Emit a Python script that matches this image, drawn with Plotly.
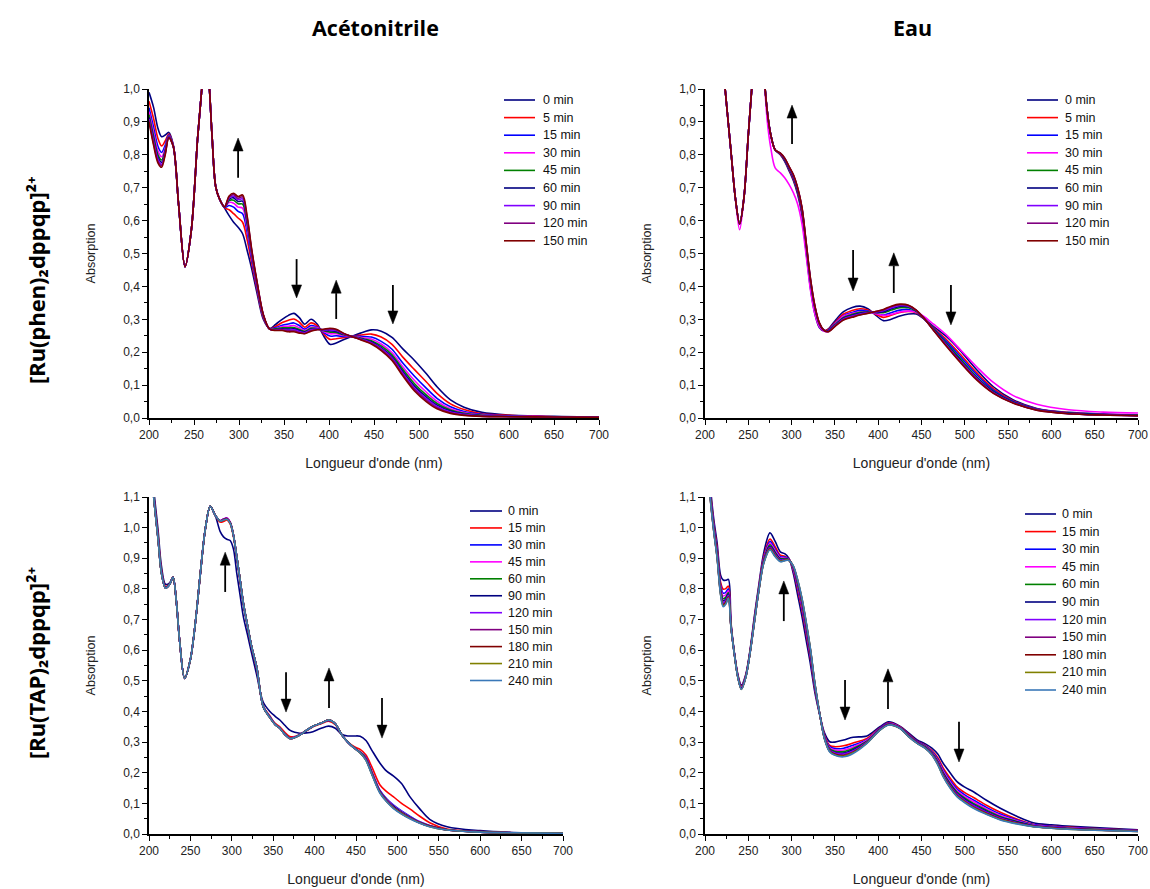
import plotly.graph_objects as go

# ---------------- data ----------------
# Panel 1 : [Ru(phen)2dppqp]2+ in acetonitrile
wl_p1 = [200, 205, 210, 214, 218, 222, 227, 233, 240, 247, 254, 258, 263, 266, 270, 274, 278, 284, 289, 294,
         299, 304, 309, 314, 320, 327, 334, 341, 348, 355, 361, 367, 373, 380, 387, 394, 401, 408, 416, 425,
         435, 447, 458, 470, 482, 495, 508, 520, 535, 550, 570, 600, 650, 700]
labels_p1 = ["0 min", "5 min", "15 min", "30 min", "45 min", "60 min", "90 min", "120 min", "150 min"]
p1_0 = [0.99, 0.945, 0.88, 0.855, 0.86, 0.868, 0.83, 0.645, 0.46, 0.57, 0.85, 0.98, 1.12, 1.05, 0.86, 0.705, 0.668,
        0.638, 0.615, 0.595, 0.58, 0.56, 0.51, 0.455, 0.38, 0.30, 0.272, 0.285, 0.30, 0.312, 0.318, 0.305, 0.285,
        0.30, 0.285, 0.25, 0.224, 0.228, 0.238, 0.248, 0.258, 0.268, 0.264, 0.245, 0.21, 0.175, 0.135, 0.095,
        0.055, 0.033, 0.017, 0.009, 0.005, 0.003]
p1_5 = [0.963, 0.911, 0.849, 0.827, 0.842, 0.863, 0.828, 0.645, 0.46, 0.57, 0.85, 0.98, 1.12, 1.05, 0.86, 0.705, 0.668,
        0.639, 0.633, 0.621, 0.608, 0.595, 0.542, 0.473, 0.391, 0.305, 0.271, 0.279, 0.290, 0.297, 0.301, 0.291,
        0.276, 0.289, 0.280, 0.256, 0.239, 0.241, 0.244, 0.248, 0.252, 0.255, 0.246, 0.224, 0.185, 0.147, 0.110,
        0.075, 0.043, 0.026, 0.013, 0.008, 0.004, 0.003]
p1_15 = [0.943, 0.885, 0.825, 0.807, 0.829, 0.860, 0.827, 0.645, 0.46, 0.57, 0.85, 0.98, 1.12, 1.05, 0.86, 0.705, 0.668,
         0.640, 0.646, 0.641, 0.628, 0.621, 0.565, 0.486, 0.398, 0.308, 0.271, 0.275, 0.282, 0.286, 0.289, 0.281,
         0.270, 0.281, 0.276, 0.260, 0.249, 0.250, 0.248, 0.248, 0.248, 0.246, 0.233, 0.209, 0.167, 0.127, 0.091,
         0.060, 0.034, 0.020, 0.011, 0.006, 0.004, 0.002]
p1_30 = [0.931, 0.869, 0.811, 0.794, 0.820, 0.857, 0.827, 0.645, 0.46, 0.57, 0.85, 0.98, 1.12, 1.05, 0.86, 0.705, 0.668,
         0.641, 0.655, 0.653, 0.641, 0.638, 0.579, 0.495, 0.403, 0.310, 0.271, 0.272, 0.278, 0.279, 0.281, 0.274,
         0.266, 0.276, 0.274, 0.263, 0.256, 0.256, 0.251, 0.248, 0.245, 0.240, 0.225, 0.199, 0.156, 0.114, 0.079,
         0.051, 0.028, 0.017, 0.009, 0.006, 0.004, 0.002]
p1_45 = [0.922, 0.858, 0.800, 0.784, 0.814, 0.856, 0.826, 0.645, 0.46, 0.57, 0.85, 0.98, 1.12, 1.05, 0.86, 0.705, 0.668,
         0.641, 0.661, 0.662, 0.651, 0.650, 0.590, 0.501, 0.407, 0.311, 0.270, 0.271, 0.274, 0.274, 0.275, 0.269,
         0.263, 0.273, 0.272, 0.265, 0.261, 0.260, 0.253, 0.248, 0.243, 0.235, 0.219, 0.192, 0.148, 0.104, 0.070,
         0.044, 0.024, 0.014, 0.008, 0.005, 0.003, 0.002]
p1_60 = [0.914, 0.848, 0.792, 0.777, 0.810, 0.855, 0.826, 0.645, 0.46, 0.57, 0.85, 0.98, 1.12, 1.05, 0.86, 0.705, 0.668,
         0.641, 0.665, 0.669, 0.658, 0.659, 0.598, 0.505, 0.409, 0.313, 0.270, 0.269, 0.271, 0.270, 0.271, 0.266,
         0.261, 0.270, 0.271, 0.267, 0.265, 0.263, 0.255, 0.248, 0.241, 0.232, 0.214, 0.186, 0.141, 0.097, 0.064,
         0.039, 0.021, 0.012, 0.007, 0.005, 0.003, 0.002]
p1_90 = [0.909, 0.842, 0.786, 0.771, 0.806, 0.854, 0.826, 0.645, 0.46, 0.57, 0.85, 0.98, 1.12, 1.05, 0.86, 0.705, 0.668,
         0.642, 0.669, 0.674, 0.664, 0.666, 0.605, 0.509, 0.412, 0.314, 0.270, 0.268, 0.269, 0.267, 0.268, 0.263,
         0.259, 0.268, 0.270, 0.268, 0.268, 0.266, 0.256, 0.248, 0.240, 0.229, 0.211, 0.182, 0.136, 0.091, 0.059,
         0.035, 0.018, 0.011, 0.006, 0.005, 0.003, 0.002]
p1_120 = [0.905, 0.836, 0.780, 0.767, 0.803, 0.853, 0.825, 0.645, 0.46, 0.57, 0.85, 0.98, 1.12, 1.05, 0.86, 0.705, 0.668,
          0.642, 0.672, 0.679, 0.668, 0.672, 0.610, 0.512, 0.413, 0.314, 0.270, 0.267, 0.268, 0.265, 0.265, 0.260,
          0.257, 0.266, 0.269, 0.269, 0.271, 0.268, 0.257, 0.248, 0.239, 0.227, 0.208, 0.179, 0.132, 0.087, 0.054,
          0.031, 0.016, 0.009, 0.005, 0.004, 0.003, 0.002]
p1_150 = [0.90, 0.83, 0.775, 0.762, 0.80, 0.852, 0.825, 0.645, 0.46, 0.57, 0.85, 0.98, 1.12, 1.05, 0.86, 0.705, 0.668,
          0.642, 0.675, 0.683, 0.673, 0.678, 0.615, 0.515, 0.415, 0.315, 0.270, 0.266, 0.266, 0.262, 0.262, 0.258,
          0.256, 0.264, 0.268, 0.270, 0.273, 0.270, 0.258, 0.248, 0.238, 0.225, 0.205, 0.175, 0.128, 0.082, 0.050,
          0.028, 0.014, 0.008, 0.005, 0.004, 0.003, 0.002]

# Panel 2 : [Ru(phen)2dppqp]2+ in water
wl_p2 = [210, 220, 225, 230, 235, 240, 245, 250, 255, 262, 268, 272, 276, 281, 287, 292, 297, 302, 307, 312,
         317, 322, 327, 332, 337, 342, 350, 360, 370, 379, 388, 396, 406, 415, 425, 435, 444, 452, 464, 479,
         494, 514, 533, 556, 583, 620, 660, 700]
labels_p2 = ["0 min", "5 min", "15 min", "30 min", "45 min", "60 min", "90 min", "120 min", "150 min"]
p2_0 = [1.5, 1.1, 0.95, 0.81, 0.67, 0.592, 0.67, 0.86, 1.04, 1.35, 1.05, 0.93, 0.86, 0.815,
        0.80, 0.78, 0.752, 0.722, 0.68, 0.615, 0.50, 0.39, 0.315, 0.275, 0.265, 0.27, 0.295, 0.323, 0.336, 0.34,
        0.332, 0.315, 0.296, 0.30, 0.31, 0.316, 0.316, 0.303, 0.278, 0.247, 0.207, 0.146, 0.095, 0.055, 0.029,
        0.017, 0.012, 0.009]
p2_5 = [1.5, 1.1, 0.95, 0.81, 0.67, 0.59, 0.67, 0.86, 1.04, 1.35, 1.05, 0.93, 0.86, 0.815,
        0.802, 0.783, 0.756, 0.727, 0.686, 0.623, 0.509, 0.399, 0.323, 0.280, 0.266, 0.268, 0.290, 0.316, 0.327,
        0.332, 0.328, 0.317, 0.306, 0.312, 0.321, 0.324, 0.320, 0.304, 0.274, 0.238, 0.196, 0.137, 0.089, 0.052,
        0.028, 0.016, 0.011, 0.008]
p2_15 = [1.5, 1.1, 0.95, 0.81, 0.67, 0.59, 0.67, 0.86, 1.04, 1.35, 1.05, 0.93, 0.86, 0.815,
         0.803, 0.785, 0.759, 0.731, 0.69, 0.628, 0.515, 0.405, 0.328, 0.283, 0.267, 0.266, 0.287, 0.311, 0.321,
         0.327, 0.325, 0.319, 0.313, 0.32, 0.328, 0.33, 0.322, 0.305, 0.272, 0.232, 0.189, 0.131, 0.085, 0.05,
         0.027, 0.015, 0.011, 0.008]
p2_30 = [1.5, 1.1, 0.95, 0.81, 0.67, 0.572, 0.67, 0.86, 1.04, 1.35, 1.05, 0.90, 0.82, 0.76,
         0.745, 0.73, 0.71, 0.685, 0.65, 0.59, 0.49, 0.385, 0.315, 0.278, 0.264, 0.263, 0.285, 0.31, 0.318, 0.322,
         0.323, 0.318, 0.312, 0.315, 0.322, 0.325, 0.322, 0.31, 0.285, 0.252, 0.21, 0.155, 0.108, 0.068, 0.042,
         0.025, 0.018, 0.015]
p2_45 = [1.5, 1.1, 0.95, 0.81, 0.67, 0.59, 0.67, 0.86, 1.04, 1.35, 1.05, 0.93, 0.86, 0.815,
         0.804, 0.787, 0.761, 0.735, 0.694, 0.633, 0.521, 0.411, 0.333, 0.286, 0.267, 0.264, 0.283, 0.306, 0.315,
         0.321, 0.322, 0.321, 0.32, 0.328, 0.335, 0.335, 0.324, 0.305, 0.270, 0.226, 0.182, 0.124, 0.081, 0.048,
         0.026, 0.014, 0.010, 0.008]
p2_60 = [1.5, 1.1, 0.95, 0.81, 0.67, 0.59, 0.67, 0.86, 1.04, 1.35, 1.05, 0.93, 0.86, 0.815,
         0.804, 0.788, 0.762, 0.736, 0.696, 0.635, 0.524, 0.414, 0.335, 0.287, 0.267, 0.264, 0.281, 0.303, 0.312,
         0.318, 0.321, 0.321, 0.323, 0.332, 0.339, 0.338, 0.326, 0.305, 0.268, 0.223, 0.178, 0.121, 0.079, 0.047,
         0.025, 0.014, 0.010, 0.007]
p2_90 = [1.5, 1.1, 0.95, 0.81, 0.67, 0.59, 0.67, 0.86, 1.04, 1.35, 1.05, 0.93, 0.86, 0.815,
         0.804, 0.789, 0.763, 0.738, 0.698, 0.637, 0.526, 0.416, 0.337, 0.288, 0.268, 0.263, 0.280, 0.301, 0.310,
         0.316, 0.320, 0.322, 0.326, 0.335, 0.342, 0.340, 0.327, 0.306, 0.267, 0.221, 0.175, 0.119, 0.077, 0.046,
         0.025, 0.013, 0.009, 0.007]
p2_120 = [1.5, 1.1, 0.95, 0.81, 0.67, 0.59, 0.67, 0.86, 1.04, 1.35, 1.05, 0.93, 0.86, 0.815,
          0.805, 0.790, 0.764, 0.739, 0.699, 0.639, 0.529, 0.419, 0.339, 0.289, 0.268, 0.262, 0.279, 0.299, 0.308,
          0.314, 0.319, 0.323, 0.328, 0.338, 0.344, 0.342, 0.327, 0.306, 0.267, 0.219, 0.173, 0.117, 0.076, 0.046,
          0.024, 0.013, 0.009, 0.007]
p2_150 = [1.5, 1.1, 0.95, 0.81, 0.67, 0.59, 0.67, 0.86, 1.04, 1.35, 1.05, 0.93, 0.86, 0.815,
          0.805, 0.79, 0.765, 0.74, 0.70, 0.64, 0.53, 0.42, 0.34, 0.29, 0.268, 0.262, 0.278, 0.298, 0.306,
          0.313, 0.318, 0.323, 0.33, 0.34, 0.346, 0.343, 0.328, 0.306, 0.266, 0.217, 0.171, 0.115, 0.075, 0.045,
          0.024, 0.013, 0.009, 0.007]

# Panel 3 : [Ru(TAP)2dppqp]2+ in acetonitrile
wl_p3 = [200, 205, 211, 215, 220, 225, 229, 233, 237, 243, 250, 256, 262, 268, 274, 280, 286, 290, 294, 298,
         302, 306, 310, 314, 319, 324, 330, 338, 346, 352, 358, 364, 370, 376, 382, 390, 398, 408, 417, 425,
         433, 440, 448, 455, 462, 469, 479, 487, 495, 505, 515, 527, 539, 560, 600, 640, 700]
labels_p3 = ["0 min", "15 min", "30 min", "45 min", "60 min", "90 min", "120 min", "150 min", "180 min",
             "210 min", "240 min"]
p3_0 = [1.4, 1.15, 0.99, 0.875, 0.815, 0.82, 0.838, 0.76, 0.63, 0.508, 0.57, 0.69, 0.85, 0.995, 1.07,
        1.04, 0.987, 0.97, 0.962, 0.958, 0.93, 0.851, 0.78, 0.709, 0.65, 0.59, 0.52, 0.43, 0.40, 0.385,
        0.372, 0.355, 0.339, 0.332, 0.329, 0.33, 0.334, 0.345, 0.352, 0.345, 0.325, 0.32, 0.32, 0.319, 0.305,
        0.274, 0.231, 0.205, 0.19, 0.165, 0.122, 0.082, 0.048, 0.024, 0.011, 0.005, 0.002]
p3_15 = [1.37, 1.13, 0.975, 0.862, 0.808, 0.817, 0.838, 0.76, 0.63, 0.508, 0.57, 0.69, 0.85, 0.995, 1.07,
         1.04, 1.018, 1.02, 1.025, 1.012, 0.97, 0.90, 0.825, 0.75, 0.675, 0.608, 0.54, 0.418, 0.385, 0.362,
         0.35, 0.332, 0.318, 0.318, 0.325, 0.337, 0.35, 0.36, 0.368, 0.357, 0.323, 0.301, 0.285, 0.276, 0.258,
         0.22, 0.16, 0.138, 0.122, 0.10, 0.082, 0.058, 0.037, 0.016, 0.008, 0.004, 0.002]
p3_30 = [1.36, 1.125, 0.965, 0.855, 0.804, 0.816, 0.838, 0.76, 0.63, 0.508, 0.57, 0.69, 0.85, 0.995, 1.07,
         1.04, 1.022, 1.026, 1.03, 1.017, 0.975, 0.904, 0.829, 0.752, 0.679, 0.61, 0.545, 0.416, 0.383, 0.36,
         0.346, 0.327, 0.313, 0.316, 0.324, 0.338, 0.351, 0.362, 0.371, 0.36, 0.323, 0.30, 0.281, 0.268, 0.25,
         0.205, 0.142, 0.115, 0.095, 0.075, 0.058, 0.04, 0.028, 0.014, 0.007, 0.004, 0.002]
p3_45 = [1.358, 1.124, 0.964, 0.854, 0.803, 0.816, 0.838, 0.76, 0.63, 0.508, 0.57, 0.69, 0.85, 0.995, 1.07,
         1.04, 1.023, 1.028, 1.032, 1.018, 0.976, 0.905, 0.83, 0.753, 0.68, 0.611, 0.546, 0.415, 0.382, 0.359,
         0.346, 0.326, 0.313, 0.316, 0.324, 0.338, 0.352, 0.362, 0.372, 0.36, 0.323, 0.30, 0.281, 0.267, 0.248,
         0.203, 0.14, 0.113, 0.093, 0.073, 0.056, 0.039, 0.027, 0.014, 0.007, 0.004, 0.002]
p3_60 = [1.356, 1.123, 0.963, 0.853, 0.803, 0.815, 0.838, 0.76, 0.63, 0.508, 0.57, 0.69, 0.85, 0.995, 1.07,
         1.04, 1.022, 1.027, 1.03, 1.017, 0.975, 0.905, 0.83, 0.753, 0.68, 0.611, 0.546, 0.415, 0.381, 0.359,
         0.345, 0.326, 0.312, 0.315, 0.323, 0.338, 0.352, 0.362, 0.372, 0.36, 0.323, 0.30, 0.281, 0.267, 0.247,
         0.201, 0.139, 0.112, 0.091, 0.071, 0.055, 0.038, 0.027, 0.014, 0.007, 0.004, 0.002]
p3_90 = [1.355, 1.122, 0.962, 0.853, 0.803, 0.815, 0.838, 0.76, 0.63, 0.508, 0.57, 0.69, 0.85, 0.995, 1.07,
         1.04, 1.022, 1.026, 1.029, 1.016, 0.975, 0.905, 0.83, 0.753, 0.68, 0.611, 0.546, 0.415, 0.381, 0.358,
         0.345, 0.325, 0.312, 0.315, 0.323, 0.338, 0.352, 0.362, 0.372, 0.36, 0.323, 0.30, 0.28, 0.266, 0.245,
         0.20, 0.138, 0.11, 0.09, 0.07, 0.054, 0.038, 0.026, 0.014, 0.007, 0.004, 0.002]
p3_120 = [1.354, 1.122, 0.962, 0.853, 0.802, 0.815, 0.838, 0.76, 0.63, 0.508, 0.57, 0.69, 0.85, 0.995, 1.07,
          1.04, 1.023, 1.028, 1.031, 1.018, 0.976, 0.905, 0.83, 0.753, 0.68, 0.611, 0.546, 0.415, 0.381, 0.358,
          0.345, 0.325, 0.312, 0.315, 0.323, 0.338, 0.352, 0.362, 0.372, 0.36, 0.323, 0.30, 0.28, 0.266, 0.244,
          0.199, 0.137, 0.109, 0.088, 0.069, 0.053, 0.037, 0.026, 0.013, 0.006, 0.004, 0.002]
p3_150 = [1.353, 1.121, 0.961, 0.852, 0.802, 0.815, 0.838, 0.76, 0.63, 0.508, 0.57, 0.69, 0.85, 0.995, 1.07,
          1.04, 1.022, 1.027, 1.03, 1.017, 0.975, 0.905, 0.83, 0.753, 0.68, 0.611, 0.546, 0.415, 0.38, 0.358,
          0.345, 0.325, 0.312, 0.315, 0.323, 0.338, 0.352, 0.362, 0.372, 0.36, 0.323, 0.30, 0.28, 0.266, 0.243,
          0.198, 0.136, 0.108, 0.087, 0.068, 0.052, 0.037, 0.025, 0.013, 0.006, 0.004, 0.002]
p3_180 = [1.352, 1.121, 0.961, 0.852, 0.802, 0.815, 0.838, 0.76, 0.63, 0.508, 0.57, 0.69, 0.85, 0.995, 1.07,
          1.04, 1.022, 1.026, 1.028, 1.016, 0.975, 0.905, 0.83, 0.753, 0.68, 0.611, 0.546, 0.415, 0.38, 0.358,
          0.345, 0.325, 0.312, 0.315, 0.323, 0.338, 0.352, 0.362, 0.372, 0.36, 0.323, 0.30, 0.28, 0.265, 0.242,
          0.197, 0.135, 0.107, 0.086, 0.067, 0.051, 0.036, 0.025, 0.013, 0.006, 0.004, 0.002]
p3_210 = [1.351, 1.12, 0.96, 0.852, 0.802, 0.815, 0.838, 0.76, 0.63, 0.508, 0.57, 0.69, 0.85, 0.995, 1.07,
          1.04, 1.022, 1.025, 1.027, 1.015, 0.975, 0.905, 0.83, 0.753, 0.68, 0.611, 0.546, 0.415, 0.38, 0.358,
          0.345, 0.325, 0.312, 0.315, 0.323, 0.338, 0.352, 0.362, 0.372, 0.36, 0.323, 0.30, 0.28, 0.265, 0.241,
          0.196, 0.134, 0.106, 0.085, 0.066, 0.051, 0.036, 0.024, 0.013, 0.006, 0.004, 0.002]
p3_240 = [1.35, 1.12, 0.96, 0.852, 0.802, 0.815, 0.838, 0.76, 0.63, 0.508, 0.57, 0.69, 0.85, 0.995, 1.07,
          1.04, 1.022, 1.025, 1.027, 1.015, 0.975, 0.905, 0.83, 0.753, 0.68, 0.611, 0.546, 0.415, 0.38, 0.358,
          0.345, 0.325, 0.312, 0.315, 0.323, 0.338, 0.352, 0.362, 0.372, 0.36, 0.323, 0.30, 0.28, 0.265, 0.24,
          0.195, 0.133, 0.105, 0.084, 0.065, 0.05, 0.035, 0.024, 0.013, 0.006, 0.004, 0.002]

# Panel 4 : [Ru(TAP)2dppqp]2+ in water
wl_p4 = [200, 205, 210, 214, 218, 221, 224, 227, 230, 234, 238, 242, 247, 252, 257, 262, 268, 275, 281, 287,
         292, 297, 302, 307, 312, 317, 322, 327, 333, 338, 344, 350, 360, 371, 387, 402, 412, 425, 435, 445,
         454, 462, 469, 475, 483, 491, 500, 510, 525, 541, 560, 579, 600, 618, 650, 700]
labels_p4 = ["0 min", "15 min", "30 min", "45 min", "60 min", "90 min", "120 min", "150 min", "180 min",
             "210 min", "240 min"]
p4_0 = [1.5, 1.18, 1.03, 0.95, 0.845, 0.829, 0.828, 0.831, 0.69, 0.59, 0.52, 0.486, 0.52, 0.60, 0.71, 0.81,
        0.92, 0.983, 0.955, 0.921, 0.915, 0.90, 0.85, 0.78, 0.71, 0.63, 0.55, 0.46, 0.383, 0.33, 0.301, 0.30,
        0.307, 0.316, 0.32, 0.35, 0.366, 0.352, 0.33, 0.307, 0.295, 0.28, 0.26, 0.231, 0.20, 0.171, 0.153, 0.138,
        0.11, 0.084, 0.058, 0.037, 0.03, 0.026, 0.021, 0.014]
p4_15 = [1.483, 1.163, 1.016, 0.933, 0.822, 0.799, 0.801, 0.809, 0.685, 0.588, 0.517, 0.481, 0.517, 0.597, 0.703,
         0.803, 0.908, 0.963, 0.938, 0.91, 0.907, 0.898, 0.859, 0.798, 0.731, 0.651, 0.568, 0.471, 0.383, 0.323,
         0.289, 0.285, 0.288, 0.297, 0.312, 0.346, 0.363, 0.350, 0.326, 0.303, 0.290, 0.272, 0.248, 0.216, 0.183,
         0.154, 0.135, 0.119, 0.094, 0.071, 0.049, 0.032, 0.026, 0.023, 0.018, 0.012]
p4_30 = [1.475, 1.155, 1.01, 0.925, 0.813, 0.786, 0.789, 0.8, 0.683, 0.588, 0.515, 0.479, 0.515, 0.595, 0.70,
         0.80, 0.903, 0.955, 0.93, 0.905, 0.904, 0.897, 0.863, 0.805, 0.74, 0.66, 0.575, 0.475, 0.383, 0.32,
         0.285, 0.279, 0.280, 0.290, 0.308, 0.345, 0.361, 0.349, 0.324, 0.302, 0.288, 0.269, 0.243, 0.209, 0.175,
         0.147, 0.128, 0.111, 0.087, 0.065, 0.046, 0.031, 0.025, 0.021, 0.017, 0.011]
p4_45 = [1.47, 1.15, 1.006, 0.92, 0.806, 0.777, 0.781, 0.794, 0.681, 0.587, 0.514, 0.478, 0.514, 0.594, 0.698,
         0.798, 0.899, 0.949, 0.925, 0.902, 0.901, 0.896, 0.865, 0.81, 0.746, 0.666, 0.58, 0.478, 0.383, 0.318,
         0.281, 0.274, 0.274, 0.284, 0.306, 0.343, 0.36, 0.348, 0.323, 0.30, 0.286, 0.267, 0.239, 0.205, 0.17,
         0.142, 0.122, 0.106, 0.082, 0.061, 0.043, 0.029, 0.023, 0.020, 0.016, 0.010]
p4_60 = [1.465, 1.145, 1.002, 0.915, 0.800, 0.768, 0.773, 0.788, 0.680, 0.587, 0.513, 0.476, 0.513, 0.593, 0.696,
         0.796, 0.896, 0.944, 0.92, 0.899, 0.899, 0.895, 0.868, 0.815, 0.752, 0.672, 0.585, 0.481, 0.383, 0.316,
         0.278, 0.27, 0.269, 0.279, 0.303, 0.342, 0.359, 0.347, 0.322, 0.299, 0.285, 0.265, 0.236, 0.2, 0.165,
         0.137, 0.117, 0.1, 0.078, 0.057, 0.041, 0.028, 0.022, 0.019, 0.015, 0.010]
p4_90 = [1.461, 1.141, 0.999, 0.911, 0.794, 0.761, 0.767, 0.783, 0.678, 0.586, 0.512, 0.475, 0.512, 0.592, 0.694,
         0.794, 0.893, 0.939, 0.916, 0.896, 0.897, 0.895, 0.87, 0.819, 0.757, 0.677, 0.589, 0.483, 0.383, 0.314,
         0.275, 0.266, 0.264, 0.275, 0.301, 0.341, 0.358, 0.347, 0.321, 0.298, 0.283, 0.263, 0.233, 0.197, 0.161,
         0.133, 0.113, 0.096, 0.074, 0.054, 0.039, 0.027, 0.021, 0.018, 0.014, 0.009]
p4_120 = [1.458, 1.138, 0.996, 0.908, 0.790, 0.756, 0.762, 0.779, 0.677, 0.586, 0.512, 0.474, 0.512, 0.592, 0.693,
          0.793, 0.891, 0.936, 0.913, 0.894, 0.896, 0.894, 0.871, 0.822, 0.76, 0.68, 0.592, 0.485, 0.383, 0.313,
          0.273, 0.264, 0.261, 0.271, 0.30, 0.341, 0.358, 0.346, 0.32, 0.298, 0.282, 0.262, 0.231, 0.194, 0.158,
          0.13, 0.11, 0.093, 0.071, 0.052, 0.037, 0.026, 0.021, 0.018, 0.013, 0.009]
p4_150 = [1.455, 1.135, 0.994, 0.905, 0.787, 0.751, 0.758, 0.775, 0.677, 0.586, 0.511, 0.473, 0.511, 0.591, 0.692,
          0.792, 0.889, 0.933, 0.91, 0.892, 0.894, 0.894, 0.873, 0.825, 0.764, 0.684, 0.595, 0.487, 0.383, 0.312,
          0.271, 0.261, 0.258, 0.268, 0.298, 0.340, 0.357, 0.346, 0.319, 0.297, 0.282, 0.260, 0.229, 0.191, 0.155,
          0.127, 0.107, 0.089, 0.069, 0.050, 0.036, 0.025, 0.020, 0.017, 0.013, 0.009]
p4_180 = [1.453, 1.133, 0.992, 0.903, 0.784, 0.747, 0.755, 0.773, 0.676, 0.585, 0.511, 0.473, 0.511, 0.591, 0.691,
          0.791, 0.887, 0.930, 0.908, 0.891, 0.893, 0.893, 0.874, 0.827, 0.766, 0.686, 0.597, 0.488, 0.383, 0.311,
          0.27, 0.26, 0.255, 0.266, 0.297, 0.340, 0.357, 0.345, 0.319, 0.297, 0.281, 0.259, 0.227, 0.19, 0.153,
          0.125, 0.105, 0.087, 0.067, 0.048, 0.035, 0.025, 0.020, 0.017, 0.013, 0.008]
p4_210 = [1.452, 1.132, 0.991, 0.902, 0.782, 0.745, 0.752, 0.771, 0.675, 0.585, 0.510, 0.472, 0.510, 0.590, 0.691,
          0.791, 0.886, 0.929, 0.907, 0.89, 0.893, 0.893, 0.874, 0.829, 0.768, 0.688, 0.599, 0.489, 0.383, 0.311,
          0.269, 0.258, 0.254, 0.265, 0.297, 0.339, 0.356, 0.345, 0.318, 0.296, 0.280, 0.259, 0.226, 0.188, 0.152,
          0.123, 0.104, 0.086, 0.065, 0.047, 0.034, 0.024, 0.019, 0.016, 0.012, 0.008]
p4_240 = [1.45, 1.13, 0.99, 0.90, 0.78, 0.742, 0.75, 0.769, 0.675, 0.585, 0.51, 0.472, 0.51, 0.59, 0.69,
          0.79, 0.885, 0.927, 0.905, 0.889, 0.892, 0.893, 0.875, 0.83, 0.77, 0.69, 0.60, 0.49, 0.383, 0.31,
          0.268, 0.257, 0.252, 0.263, 0.296, 0.339, 0.356, 0.345, 0.318, 0.296, 0.28, 0.258, 0.225, 0.187, 0.15,
          0.122, 0.102, 0.084, 0.064, 0.046, 0.033, 0.024, 0.019, 0.016, 0.012, 0.008]

# ---------------- styling ----------------
W, H = 1150, 889
NAVY, RED, BLUE, MAG, GRN = "#000080", "#FF0000", "#0000FF", "#FF00FF", "#008000"
VIO, PUR, WINE, OLV, STL = "#8000FF", "#800080", "#800000", "#808000", "#3A78B8"
colors_9 = [NAVY, RED, BLUE, MAG, GRN, NAVY, VIO, PUR, WINE]
colors_11 = [NAVY, RED, BLUE, MAG, GRN, NAVY, VIO, PUR, WINE, OLV, STL]

FONT = "Liberation Sans, Arial, sans-serif"
TITLE_FONT = "Open Sans, Noto Sans, sans-serif"


def px(x, y):
    """screen pixel of the reference -> paper coordinates"""
    return x / W, 1 - y / H


panels = [
    dict(wl=wl_p1, series=[p1_0, p1_5, p1_15, p1_30, p1_45, p1_60, p1_90, p1_120, p1_150],
         labels=labels_p1, colors=colors_9, ax="", box=(149, 599, 89, 418), ymax=1.0,
         leg=(504, 535, 541, 100, 17.6),
         arrows=[(299, 0.73, 0.851), (364, 0.483, 0.365), (408, 0.301, 0.419), (471, 0.404, 0.286)]),
    dict(wl=wl_p2, series=[p2_0, p2_5, p2_15, p2_30, p2_45, p2_60, p2_90, p2_120, p2_150],
         labels=labels_p2, colors=colors_9, ax="2", box=(705, 1138, 89, 418), ymax=1.0,
         leg=(1027, 1058, 1063, 100, 17.6),
         arrows=[(300.5, 0.833, 0.951), (371, 0.511, 0.386), (418, 0.38, 0.502), (484, 0.404, 0.283)]),
    dict(wl=wl_p3, series=[p3_0, p3_15, p3_30, p3_45, p3_60, p3_90, p3_120, p3_150, p3_180, p3_210, p3_240],
         labels=labels_p3, colors=colors_11, ax="3", box=(149, 563, 497, 834), ymax=1.1,
         leg=(470, 502, 506, 511, 16.95),
         arrows=[(292, 0.79, 0.92), (365.5, 0.528, 0.398), (417.4, 0.411, 0.542), (481.4, 0.444, 0.313)]),
    dict(wl=wl_p4, series=[p4_0, p4_15, p4_30, p4_45, p4_60, p4_90, p4_120, p4_150, p4_180, p4_210, p4_240],
         labels=labels_p4, colors=colors_11, ax="4", box=(705, 1138, 497, 834), ymax=1.1,
         leg=(1025, 1056, 1060, 514, 17.6),
         arrows=[(291, 0.695, 0.826), (361.7, 0.503, 0.372), (411.3, 0.408, 0.539), (493.3, 0.366, 0.235)]),
]

fig = go.Figure()
shapes, annotations = [], []
layout_axes = {}

for p in panels:
    xa, ya = "x" + p["ax"], "y" + p["ax"]
    for vals, lab, col in zip(p["series"], p["labels"], p["colors"]):
        fig.add_trace(go.Scatter(x=p["wl"], y=vals, name=lab, mode="lines",
                                 line=dict(color=col, width=1.6, shape="spline", smoothing=0.9),
                                 xaxis=xa, yaxis=ya, showlegend=False))
    x0, x1, y0, y1 = p["box"]
    dx0, dy0 = px(x0, y1)
    dx1, dy1 = px(x1, y0)
    tickfont = dict(family=FONT, size=12, color="#222")
    layout_axes["xaxis" + p["ax"]] = dict(
        domain=[dx0, dx1], anchor=ya, range=[200, 700], tick0=200, dtick=50, automargin=False,
        ticks="outside", ticklen=5, tickwidth=1.3, tickcolor="black",
        showline=True, linecolor="black", linewidth=1.5, showgrid=False, zeroline=False,
        minor=dict(dtick=25, ticks="outside", ticklen=3, tickwidth=1.2, tickcolor="black", showgrid=False),
        tickfont=tickfont,
        title=dict(text="Longueur d'onde (nm)", standoff=17, font=dict(family=FONT, size=14, color="#222")))
    layout_axes["yaxis" + p["ax"]] = dict(
        domain=[dy0, dy1], anchor=xa, range=[0, p["ymax"]], tick0=0, dtick=0.1, tickformat=".1f",
        automargin=False,
        ticks="outside", ticklen=5, tickwidth=1.3, tickcolor="black",
        showline=True, linecolor="black", linewidth=1.5, showgrid=False, zeroline=False,
        minor=dict(dtick=0.05, ticks="outside", ticklen=3, tickwidth=1.2, tickcolor="black", showgrid=False),
        tickfont=tickfont,
        title=dict(text="Absorption", standoff=25, font=dict(family=FONT, size=12.5, color="#222")))
    # arrows (drawn as a shaft plus a filled head)
    ppx = (x1 - x0) / 500.0          # pixels per nm
    ppy = (y1 - y0) / p["ymax"]      # pixels per absorbance unit
    hw = 5.0 / ppx                   # half width of head (nm)
    hl = 13.0 / ppy                  # head length (absorbance)
    for (xa_, tail, head) in p["arrows"]:
        sgn = 1 if head > tail else -1
        base = head - sgn * hl
        shapes.append(dict(type="line", xref=xa, yref=ya, x0=xa_, x1=xa_, y0=tail, y1=base,
                           line=dict(color="black", width=1.8)))
        shapes.append(dict(type="path", xref=xa, yref=ya,
                           path=f"M {xa_ - hw} {base} L {xa_ + hw} {base} L {xa_} {head} Z",
                           fillcolor="black", line=dict(color="black", width=0.5)))
    # legend (drawn manually to match the original spacing)
    lx0, lx1, tx, ly, step = p["leg"]
    for i, (lab, col) in enumerate(zip(p["labels"], p["colors"])):
        yy = ly + i * step
        a, b = px(lx0, yy)
        c, _ = px(lx1, yy)
        shapes.append(dict(type="line", xref="paper", yref="paper", x0=a, x1=c, y0=b, y1=b,
                           line=dict(color=col, width=1.6)))
        t, _ = px(tx, yy)
        annotations.append(dict(text=lab, x=t, y=b, xref="paper", yref="paper", showarrow=False,
                                xanchor="left", yanchor="middle",
                                font=dict(family=FONT, size=12.5, color="#111")))

# column and row titles
for txt, (cx, cy) in [("Acétonitrile", (375, 28)), ("Eau", (912, 28))]:
    a, b = px(cx, cy)
    annotations.append(dict(text="<b>" + txt + "</b>", x=a, y=b, xref="paper", yref="paper",
                            showarrow=False, font=dict(family=TITLE_FONT, size=21.5, color="black"),
                            xanchor="center", yanchor="middle"))
for txt, (cx, cy) in [("<b>[Ru(phen)\u2082dppqp]\u00b2\u207a</b>", (36, 280)),
                      ("<b>[Ru(TAP)\u2082dppqp]\u00b2\u207a</b>", (36, 663))]:
    a, b = px(cx, cy)
    annotations.append(dict(text=txt, x=a, y=b, xref="paper", yref="paper", showarrow=False,
                            textangle=-90, font=dict(family="Noto Sans, Open Sans, sans-serif", size=22,
                                                     color="black"),
                            xanchor="center", yanchor="middle"))

fig.update_layout(width=W, height=H, margin=dict(l=0, r=0, t=0, b=0, autoexpand=False),
                  paper_bgcolor="white", plot_bgcolor="white", separators=", ",
                  shapes=shapes, annotations=annotations, showlegend=False, **layout_axes)

fig.write_html("out.html", config={"displayModeBar": False},
               post_script="document.body.style.margin='0px';document.body.style.overflow='hidden';")
